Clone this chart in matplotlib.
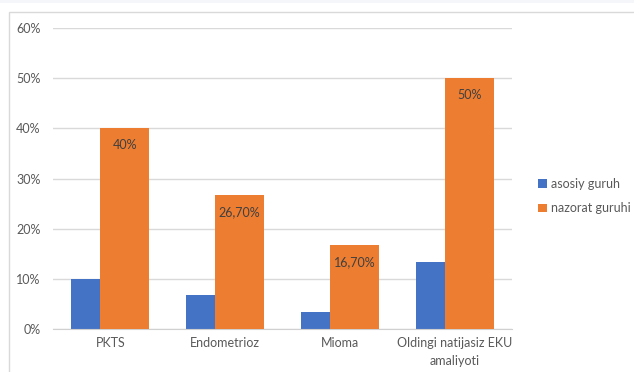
import numpy as np
import matplotlib
matplotlib.use('Agg')
import matplotlib.pyplot as plt
from matplotlib.patches import Rectangle

plt.rcParams['font.family'] = ['Lato', 'DejaVu Sans']
plt.rcParams['font.size'] = 9

# Data
categories = ['PKTS', 'Endometrioz', 'Mioma', 'Oldingi natijasiz EKU\namaliyoti']
asosiy = [10, 6.7, 3.3, 13.3]
nazorat = [40, 26.7, 16.7, 50]
nazorat_labels = ['40%', '26,70%', '16,70%', '50%']
series_names = ['asosiy guruh', 'nazorat guruhi']
yticks = [0, 10, 20, 30, 40, 50, 60]

blue = '#4472C4'
orange = '#ED7D31'
grey = '#595959'

fig = plt.figure(figsize=(6.34, 3.72), dpi=100)
# faint strip at the very top and outer chart frame
fig.patches.append(Rectangle((0, 1 - 3 / 372), 1, 3 / 372, transform=fig.transFigure,
                             facecolor='#f4f6f9', edgecolor='none'))
fig.patches.append(Rectangle((9 / 634, -0.1), 1.0, 1 - 12 / 372 + 0.1,
                             transform=fig.transFigure, fill=False,
                             edgecolor='#d9d9d9', linewidth=1.0))

ax = fig.add_axes([53 / 634, 1 - 329 / 372, (512 - 53) / 634, (329 - 28) / 372])
x = np.arange(len(categories))
w = 0.427
off = 0.126
ax.bar(x - off, asosiy, w, color=blue, label=series_names[0], zorder=2)
bars = ax.bar(x + off, nazorat, w, color=orange, label=series_names[1], zorder=3)

for b, lab in zip(bars, nazorat_labels):
    ax.annotate(lab, (b.get_x() + b.get_width() / 2, b.get_height()),
                xytext=(0, -8), textcoords='offset points',
                ha='center', va='top', color='#404040', fontsize=9, zorder=4)

ax.set_xlim(-0.5, 3.5)
ax.set_ylim(0, 60)
ax.set_yticks(yticks)
ax.set_yticklabels([f'{t}%' for t in yticks], color=grey)
ax.set_xticks(x)
ax.set_xticklabels(categories, color=grey, linespacing=1.55)
ax.tick_params(axis='both', length=0)
ax.tick_params(axis='y', pad=9)
ax.tick_params(axis='x', pad=6)
ax.grid(axis='y', color='#d9d9d9', linewidth=1.0, zorder=0)
ax.set_axisbelow(True)
for s in ['left', 'right', 'top']:
    ax.spines[s].set_visible(False)
ax.spines['bottom'].set_color('#d0d0d0')

ax.legend(loc='center left', bbox_to_anchor=(527 / 634, 1 - 196 / 372),
          bbox_transform=fig.transFigure, frameon=False,
          handlelength=0.7, handleheight=0.7, handletextpad=0.3,
          labelspacing=1.0, labelcolor=grey, fontsize=9)

fig.savefig('out.png', dpi=100)
